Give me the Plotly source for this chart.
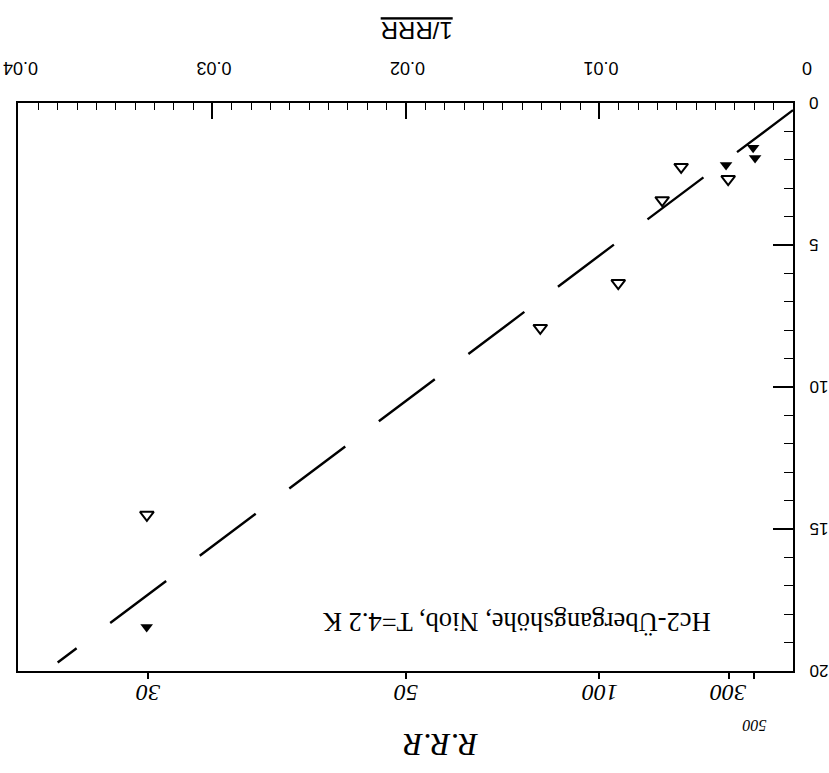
import plotly.graph_objects as go

# ---- data read from the (upside-down) picture ----
open_inv_rrr = [0.00578, 0.00335, 0.00676, 0.00903, 0.01306, 0.03339]
open_hc2 = [2.25, 2.68, 3.42, 6.34, 7.92, 14.5]
filled_inv_rrr = [0.00206, 0.00196, 0.00346, 0.0334]
filled_hc2 = [1.58, 1.94, 2.18, 18.45]
fit_inv_rrr = [0.0, 0.0380]
fit_hc2 = [0.25, 19.7]
x_ticks = [0, 0.01, 0.02, 0.03, 0.04]
x_tick_text = ["0", "0.01", "0.02", "0.03", "0.04"]
y_ticks = [0, 5, 10, 15, 20]
y_tick_text = ["0", "5", "10", "15", "20"]
rrr_ticks = [30, 50, 100, 300, 500]
rrr_tick_text = ["30", "50", "100", "300", "500"]
rrr_label_rows = [0, 0, 0, 0, 1]

SANS = "Liberation Sans, Arial, sans-serif"
SERIF = "Liberation Serif, Times New Roman, serif"

fig = go.Figure()
fig.add_trace(go.Scatter(
    x=fit_inv_rrr, y=fit_hc2, mode="lines",
    line=dict(color="black", width=2.4, dash="70px,42px"),
    showlegend=False, hoverinfo="skip"))
fig.add_trace(go.Scatter(
    x=open_inv_rrr, y=open_hc2, mode="markers",
    marker=dict(symbol="triangle-down-open", size=12, color="black",
                line=dict(width=2)),
    showlegend=False))
fig.add_trace(go.Scatter(
    x=filled_inv_rrr, y=filled_hc2, mode="markers",
    marker=dict(symbol="triangle-down", size=11, color="black"),
    showlegend=False))
# invisible trace to activate the RRR axis
fig.add_trace(go.Scatter(
    x=[1.0 / r for r in rrr_ticks], y=[None] * len(rrr_ticks),
    xaxis="x2", mode="markers", showlegend=False, hoverinfo="skip"))

X_RANGE = [0.04005, 0]

fig.update_layout(
    width=829, height=773,
    margin=dict(l=18, r=36, t=103, b=102, autoexpand=False),
    paper_bgcolor="white", plot_bgcolor="white",
    xaxis=dict(
        range=X_RANGE, side="top", automargin=False,
        tickvals=x_ticks, ticktext=x_tick_text, tickangle=180,
        ticks="inside", ticklen=16, tickwidth=1.5, tickcolor="black",
        minor=dict(dtick=0.001, ticks="inside", ticklen=7, tickwidth=1.2,
                   tickcolor="black", showgrid=False),
        showline=True, linewidth=2, linecolor="black", mirror=True,
        showgrid=False, zeroline=False,
        tickfont=dict(family=SANS, size=18, color="black"),
        ticklabelstandoff=14, ticklabelshift=-19, ticklabeloverflow="allow",
    ),
    xaxis2=dict(
        overlaying="x", anchor="y", side="bottom", automargin=False,
        range=X_RANGE,
        tickvals=[1.0 / r for r in rrr_ticks], ticktext=[""] * len(rrr_ticks),
        ticks="outside", ticklen=7, tickwidth=2, tickcolor="black",
        showline=False, showgrid=False, zeroline=False,
    ),
    yaxis=dict(
        range=[20, 0], side="right", automargin=False,
        tickvals=y_ticks, showticklabels=False,
        ticks="inside", ticklen=20, tickwidth=1.5, tickcolor="black",
        minor=dict(dtick=1, ticks="inside", ticklen=9, tickwidth=1.2,
                   tickcolor="black", showgrid=False),
        showline=True, linewidth=2, linecolor="black", mirror=True,
        showgrid=False, zeroline=False,
    ),
)

annotations = [
    dict(text="<u>1/RRR</u>", xref="paper", yref="paper", x=0.514, y=1.128,
         xanchor="center", yanchor="middle",
         showarrow=False, textangle=180,
         font=dict(family=SANS, size=24, color="black")),
    dict(text="Hc2-Übergangshöhe, Niob, T=4.2 K", xref="paper", yref="paper",
         x=0.643, y=0.086, xanchor="center", yanchor="middle",
         showarrow=False, textangle=180,
         font=dict(family=SERIF, size=26.5, color="black")),
    dict(text="<i>R.R.R</i>", xref="paper", yref="paper", x=0.545, y=-0.13,
         xanchor="center", yanchor="middle",
         showarrow=False, textangle=180,
         font=dict(family=SERIF, size=32, color="black")),
]
# upside-down Hc2 tick labels (right side of the rotated frame)
for v, t in zip(y_ticks, y_tick_text):
    annotations.append(dict(
        text=t, xref="paper", yref="y", x=1.019, y=v,
        xanchor="left", yanchor="middle", showarrow=False, textangle=180,
        font=dict(family=SANS, size=17, color="black")))
# hand-written RRR labels along the bottom
for r, t, row in zip(rrr_ticks, rrr_tick_text, rrr_label_rows):
    annotations.append(dict(
        text="<i>" + t + "</i>", xref="x", yref="paper", x=1.0 / r,
        y=-0.04 - 0.055 * row, xanchor="center", yanchor="middle",
        showarrow=False, textangle=180,
        font=dict(family=SERIF, size=24 if row == 0 else 16, color="black")))
fig.update_layout(annotations=annotations)

fig.write_html("out.html")
